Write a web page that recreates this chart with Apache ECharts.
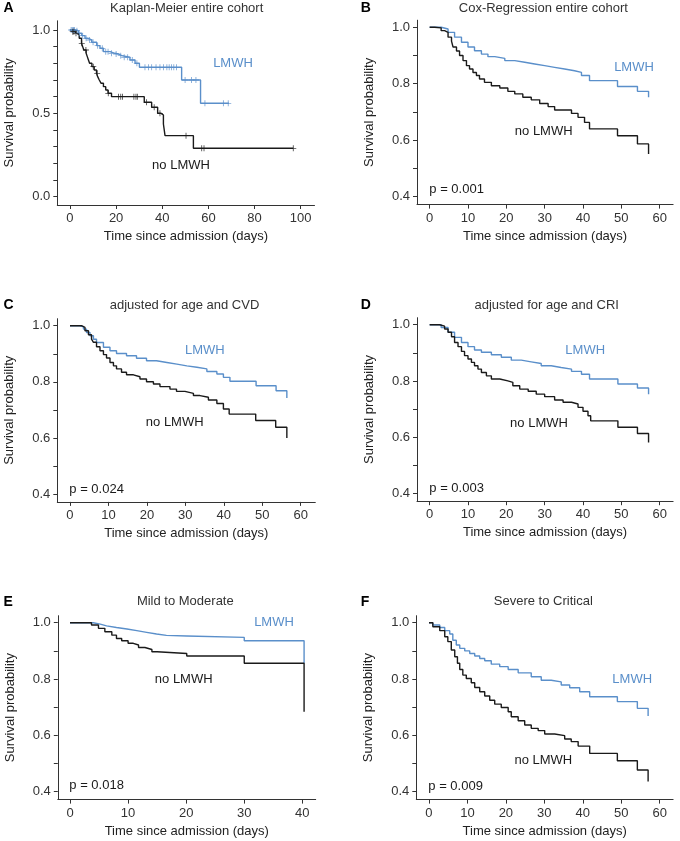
<!DOCTYPE html>
<html>
<head>
<meta charset="utf-8">
<script src="https://cdn.jsdelivr.net/npm/echarts@6/dist/echarts.min.js"></script>
<style>
  html, body { margin: 0; padding: 0; background: #fff; }
  #chart { width: 680px; height: 841px; }
</style>
</head>
<body>
<div id="chart"></div>
<script>
// ---- data (days, survival probability) ----
// A: Kaplan-Meier entire cohort
var aLmwhT = [0, 2.2, 3.6, 5.1, 6.5, 7.9, 9.4, 11.6, 13.0, 14.5, 17.3, 19.5, 21.0, 22.4, 26.0, 28.2, 30.1, 48.4, 56.6, 68.9];
var aLmwhS = [1, 0.996, 0.98, 0.966, 0.95, 0.94, 0.926, 0.906, 0.89, 0.87, 0.86, 0.856, 0.846, 0.836, 0.82, 0.80, 0.776, 0.70, 0.56, 0.56];
var aNoT = [0, 1, 2, 3, 4, 5, 5.5, 6, 7, 7.5, 8, 8.5, 9.5, 10.5, 11.5, 12, 12.7, 13.5, 14.5, 15.5, 16.5, 18, 32.2, 35.4, 38.0, 39.5, 40.5, 41.2, 53.5, 96.8];
var aNoS = [1, 0.99, 0.98, 0.97, 0.95, 0.92, 0.90, 0.88, 0.86, 0.84, 0.82, 0.80, 0.78, 0.76, 0.74, 0.72, 0.70, 0.68, 0.66, 0.64, 0.62, 0.60, 0.566, 0.536, 0.50, 0.49, 0.436, 0.366, 0.29, 0.29];
var aLmwhCensor = [0.5, 1, 1.5, 2, 3, 4, 5.5, 7, 8.5, 10, 12, 14, 15.5, 16.5, 18, 20, 22, 23.5, 25, 27, 29, 32.5, 34, 35.4, 37.3, 39, 40.5, 42, 43, 44, 45, 46.2, 49.9, 52.7, 54.6, 58.5, 66.5, 68.6];
var aNoCensor = [1.2, 1.7, 2.6, 5.1, 6.9, 10.1, 11.8, 16.6, 21, 22, 22.8, 27.7, 28.6, 29.2, 33.2, 36.5, 39, 50.3, 57.1, 58.1, 96.8];

// B: Cox-Regression entire cohort
var bLmwhT = [0, 3, 4.8, 6.5, 8.3, 10, 11.7, 13.5, 15.2, 17, 19.6, 22.2, 24.8, 27.4, 30, 32.6, 35.2, 37.8, 39.6, 41.7, 49, 54.2, 57.1];
var bLmwhS = [1, 0.994, 0.982, 0.965, 0.947, 0.93, 0.917, 0.905, 0.896, 0.89, 0.882, 0.876, 0.87, 0.864, 0.858, 0.852, 0.846, 0.84, 0.829, 0.811, 0.79, 0.773, 0.752];
var bNoT = [0, 1.3, 3, 3.9, 4.8, 5.7, 6.1, 7, 7.8, 8.7, 9.6, 10.4, 11.3, 12.2, 13, 14.3, 16.1, 18.3, 20.4, 22.2, 24.3, 26.5, 28.7, 30.9, 32.6, 37, 38.7, 40.4, 41.7, 49, 54.2, 57.1];
var bNoS = [1, 0.998, 0.988, 0.982, 0.965, 0.951, 0.93, 0.916, 0.90, 0.882, 0.864, 0.852, 0.84, 0.829, 0.817, 0.805, 0.793, 0.785, 0.773, 0.764, 0.752, 0.743, 0.73, 0.719, 0.707, 0.695, 0.681, 0.663, 0.64, 0.616, 0.587, 0.551];

// C: adjusted for age and CVD
var cLmwhT = [0, 2.6, 3.5, 4.3, 5.2, 6.1, 6.9, 8.7, 10.4, 12.1, 14.7, 17.3, 19.9, 22.5, 25.2, 27.8, 30.4, 33, 35.6, 38.2, 39.9, 41.6, 48.4, 53.6, 56.4];
var cLmwhS = [1, 0.996, 0.988, 0.976, 0.964, 0.952, 0.94, 0.923, 0.911, 0.901, 0.893, 0.884, 0.875, 0.869, 0.863, 0.857, 0.852, 0.846, 0.837, 0.828, 0.816, 0.802, 0.786, 0.768, 0.742];
var cNoT = [0, 3, 3.9, 4.8, 5.6, 6.1, 6.9, 7.8, 8.7, 9.5, 10.4, 11.3, 12.1, 13.4, 14.7, 16.5, 18.2, 19.9, 21.7, 23.4, 26, 27.7, 29.9, 32.1, 33.8, 36, 38.2, 39.9, 41.4, 48.3, 53.5, 56.4];
var cNoS = [1, 0.994, 0.982, 0.968, 0.952, 0.941, 0.925, 0.911, 0.897, 0.885, 0.869, 0.857, 0.846, 0.834, 0.825, 0.818, 0.81, 0.80, 0.792, 0.783, 0.774, 0.766, 0.759, 0.751, 0.745, 0.735, 0.723, 0.703, 0.685, 0.662, 0.638, 0.60];

// D: adjusted for age and CRI
var dLmwhT = [0, 3, 4.8, 6.5, 8.3, 10, 11.7, 13.5, 16.1, 18.7, 21.3, 23.9, 26.5, 29.1, 31.7, 34.3, 37, 39.6, 41.7, 49.1, 54.2, 57.1];
var dLmwhS = [1, 0.99, 0.973, 0.955, 0.937, 0.922, 0.91, 0.902, 0.893, 0.884, 0.874, 0.868, 0.862, 0.854, 0.848, 0.842, 0.834, 0.824, 0.807, 0.789, 0.775, 0.753];
var dNoT = [0, 2.6, 3.9, 4.8, 5.7, 6.5, 7.4, 8.3, 9.1, 10, 10.9, 11.7, 12.6, 13.5, 14.8, 16.1, 18.3, 20.4, 21.7, 23.5, 25.7, 27.8, 30, 32.6, 34.8, 37, 38.7, 40, 41.3, 42, 49.1, 54.2, 57.1];
var dNoS = [1, 0.995, 0.985, 0.973, 0.957, 0.937, 0.922, 0.905, 0.89, 0.878, 0.866, 0.854, 0.842, 0.83, 0.818, 0.807, 0.80, 0.795, 0.783, 0.771, 0.763, 0.753, 0.744, 0.732, 0.724, 0.718, 0.706, 0.692, 0.676, 0.658, 0.635, 0.613, 0.581];

// E: Mild to Moderate
var eLmwhT = [0, 4, 5.2, 6.3, 8, 9.8, 11.5, 13.2, 14.9, 16.6, 20.1, 30, 40.3];
var eLmwhS = [1, 0.995, 0.989, 0.983, 0.978, 0.972, 0.966, 0.96, 0.955, 0.953, 0.948, 0.936, 0.856];
var eNoT = [0, 3.7, 4.9, 6, 7.2, 8, 8.9, 10, 10.9, 11.8, 12.9, 14.1, 15, 20.1, 30, 40.3];
var eNoS = [1, 0.992, 0.98, 0.968, 0.956, 0.944, 0.936, 0.927, 0.921, 0.912, 0.905, 0.897, 0.891, 0.882, 0.856, 0.684];

// F: Severe to Critical
var fLmwhT = [0, 1, 2.8, 4.1, 5.4, 6.2, 7.1, 8, 9.3, 10.6, 11.9, 13.2, 14.5, 16.2, 18.4, 20.6, 23.2, 26.6, 29.2, 31.8, 34.4, 36.6, 39.2, 41.8, 49, 54.2, 57];
var fLmwhS = [1, 0.992, 0.983, 0.972, 0.96, 0.938, 0.921, 0.909, 0.90, 0.891, 0.882, 0.873, 0.865, 0.853, 0.844, 0.834, 0.822, 0.808, 0.796, 0.79, 0.779, 0.769, 0.755, 0.737, 0.72, 0.696, 0.669];
var fNoT = [0, 1, 2.8, 4.1, 4.9, 5.8, 6.7, 7.4, 8, 8.8, 9.7, 11, 11.9, 13.2, 14.5, 15.8, 17.1, 18.8, 20.6, 21.4, 23.2, 24.9, 26.6, 28.4, 30.1, 32.7, 35.3, 37, 38.8, 41.8, 49, 54.2, 57];
var fNoS = [1, 0.986, 0.972, 0.95, 0.933, 0.903, 0.879, 0.856, 0.834, 0.814, 0.802, 0.787, 0.77, 0.755, 0.74, 0.725, 0.711, 0.699, 0.684, 0.666, 0.652, 0.637, 0.625, 0.617, 0.605, 0.599, 0.587, 0.578, 0.562, 0.536, 0.51, 0.477, 0.436];

// tick labels
var xTicks100 = [0, 20, 40, 60, 80, 100];
var xTicks60 = [0, 10, 20, 30, 40, 50, 60];
var xTicks40 = [0, 10, 20, 30, 40];
var yLabelsFull = [0, 0.5, 1];
var yTicksFull = [0, 0.1, 0.2, 0.3, 0.4, 0.5, 0.6, 0.7, 0.8, 0.9, 1];
var yLabelsZoom = [0.4, 0.6, 0.8, 1];
var yTicksZoom = [0.4, 0.5, 0.6, 0.7, 0.8, 0.9, 1];

var pTexts = ['', 'p = 0.001', 'p = 0.024', 'p = 0.003', 'p = 0.018', 'p = 0.009'];
var titles = ['Kaplan-Meier entire cohort', 'Cox-Regression entire cohort', 'adjusted for age and CVD',
              'adjusted for age and CRI', 'Mild to Moderate', 'Severe to Critical'];
var letters = ['A', 'B', 'C', 'D', 'E', 'F'];

var BLUE = '#5a8fca';
var BLACK = '#1a1a1a';
var FONT = '"Liberation Sans", Arial, sans-serif';
var AXIS = '#333333';

function pairs(t, s) {
  return t.map(function (v, i) { return [v, s[i]]; });
}
// survival value of a step curve at time x (for censor marks)
function survAt(t, s, x) {
  var v = s[0];
  for (var i = 0; i < t.length; i++) { if (t[i] <= x) v = s[i]; }
  return v;
}

// panel layout (pixels) and axis ranges
var panels = [
  { grid: [57.3, 20.8, 257.2, 184.2], x: [-5.5, 106], y: [-0.05, 1.055], xt: xTicks100, yl: yLabelsFull, yt: yTicksFull,
    lm: [aLmwhT, aLmwhS], no: [aNoT, aNoS],
    lmLab: [233, 63.5], noLab: [181, 165.7], p: null, title: [186.7, 8.5], letter: [3.5, 8.5] },
  { grid: [417, 20.2, 256.1, 184.4], x: [-3.3, 63.5], y: [0.372, 1.025], xt: xTicks60, yl: yLabelsZoom, yt: yTicksZoom,
    lm: [bLmwhT, bLmwhS], no: [bNoT, bNoS],
    lmLab: [634, 67.7], noLab: [543.7, 131], p: [429.3, 189.3], title: [543.3, 8.5], letter: [360.7, 8.5] },
  { grid: [57.3, 318.7, 258, 183.2], x: [-3.3, 63.8], y: [0.372, 1.025], xt: xTicks60, yl: yLabelsZoom, yt: yTicksZoom,
    lm: [cLmwhT, cLmwhS], no: [cNoT, cNoS],
    lmLab: [204.8, 350], noLab: [174.7, 422.7], p: [69.3, 489], title: [184.5, 305], letter: [3.5, 305] },
  { grid: [417, 317.7, 256.1, 183.5], x: [-3.3, 63.5], y: [0.372, 1.025], xt: xTicks60, yl: yLabelsZoom, yt: yTicksZoom,
    lm: [dLmwhT, dLmwhS], no: [dNoT, dNoS],
    lmLab: [585.2, 350], noLab: [539, 423.3], p: [429.3, 488.3], title: [546.7, 305], letter: [360.7, 305] },
  { grid: [57.8, 615.7, 257.9, 183.9], x: [-2.1, 42.3], y: [0.372, 1.025], xt: xTicks40, yl: yLabelsZoom, yt: yTicksZoom,
    lm: [eLmwhT, eLmwhS], no: [eNoT, eNoS],
    lmLab: [274, 622.7], noLab: [183.7, 679.3], p: [69.3, 785.7], title: [185.3, 601.7], letter: [3.5, 601.7] },
  { grid: [416.3, 615.7, 256.8, 183.9], x: [-3.3, 63.5], y: [0.372, 1.025], xt: xTicks60, yl: yLabelsZoom, yt: yTicksZoom,
    lm: [fLmwhT, fLmwhS], no: [fNoT, fNoS],
    lmLab: [632.2, 679], noLab: [543.3, 760], p: [428.3, 786], title: [543.3, 601.7], letter: [360.7, 601.7] }
];

var grids = [], xAxes = [], yAxes = [], series = [], graphics = [];

panels.forEach(function (p, i) {
  grids.push({ left: p.grid[0], top: p.grid[1], width: p.grid[2], height: p.grid[3], containLabel: false });

  xAxes.push({
    type: 'value', gridIndex: i, min: p.x[0], max: p.x[1],
    name: 'Time since admission (days)', nameLocation: 'middle', nameGap: 25,
    nameTextStyle: { color: '#222', fontSize: 13, fontFamily: FONT },
    axisLine: { show: true, onZero: false, lineStyle: { color: AXIS, width: 1 } },
    axisTick: { show: true, length: 4, customValues: p.xt, lineStyle: { color: AXIS } },
    axisLabel: { customValues: p.xt, margin: 7, color: '#333', fontSize: 13, fontFamily: FONT },
    splitLine: { show: false }
  });

  yAxes.push({
    type: 'value', gridIndex: i, min: p.y[0], max: p.y[1],
    name: 'Survival probability', nameLocation: 'middle', nameGap: 41,
    nameTextStyle: { color: '#222', fontSize: 13, fontFamily: FONT },
    axisLine: { show: true, onZero: false, lineStyle: { color: AXIS, width: 1 } },
    axisTick: { show: true, length: 4, customValues: p.yt, lineStyle: { color: AXIS } },
    axisLabel: { customValues: p.yl, margin: 7, color: '#333', fontSize: 13, fontFamily: FONT,
      formatter: function (v) { return v.toFixed(1); } },
    splitLine: { show: false }
  });

  series.push({
    type: 'line', xAxisIndex: i, yAxisIndex: i, step: 'end', showSymbol: false,
    data: pairs(p.no[0], p.no[1]), lineStyle: { color: BLACK, width: 1.4 }, z: 3
  });
  series.push({
    type: 'line', xAxisIndex: i, yAxisIndex: i, step: 'end', showSymbol: false,
    data: pairs(p.lm[0], p.lm[1]), lineStyle: { color: BLUE, width: 1.4 }, z: 2
  });

  // titles and in-plot labels
  graphics.push({ type: 'text', style: { text: titles[i], x: p.title[0], y: p.title[1], fill: '#333',
    font: '13px ' + FONT, align: 'center', verticalAlign: 'middle' } });
  graphics.push({ type: 'text', style: { text: letters[i], x: p.letter[0], y: p.letter[1], fill: '#000',
    font: 'bold 14px ' + FONT, align: 'left', verticalAlign: 'middle' } });
  graphics.push({ type: 'text', style: { text: 'LMWH', x: p.lmLab[0], y: p.lmLab[1], fill: BLUE,
    font: '13px ' + FONT, align: 'center', verticalAlign: 'middle' } });
  graphics.push({ type: 'text', style: { text: 'no LMWH', x: p.noLab[0], y: p.noLab[1], fill: BLACK,
    font: '13px ' + FONT, align: 'center', verticalAlign: 'middle' } });
  if (p.p) {
    graphics.push({ type: 'text', style: { text: pTexts[i], x: p.p[0], y: p.p[1], fill: BLACK,
      font: '13px ' + FONT, align: 'left', verticalAlign: 'middle' } });
  }
});

// censor marks, only in the Kaplan-Meier panel
var PLUS = 'path://M-0.7,-5H0.7V-0.7H5V0.7H0.7V5H-0.7V0.7H-5V-0.7H-0.7Z';
series.push({
  type: 'scatter', xAxisIndex: 0, yAxisIndex: 0, symbol: PLUS, symbolSize: 6,
  itemStyle: { color: BLUE }, z: 4,
  data: aLmwhCensor.map(function (c) { return [c, survAt(aLmwhT, aLmwhS, c)]; })
});
series.push({
  type: 'scatter', xAxisIndex: 0, yAxisIndex: 0, symbol: PLUS, symbolSize: 6,
  itemStyle: { color: BLACK }, z: 5,
  data: aNoCensor.map(function (c) { return [c, survAt(aNoT, aNoS, c)]; })
});

var chart = echarts.init(document.getElementById('chart'), null, { renderer: 'canvas' });
chart.setOption({
  animation: false,
  backgroundColor: '#ffffff',
  grid: grids,
  xAxis: xAxes,
  yAxis: yAxes,
  series: series,
  graphic: graphics
});
</script>
</body>
</html>
